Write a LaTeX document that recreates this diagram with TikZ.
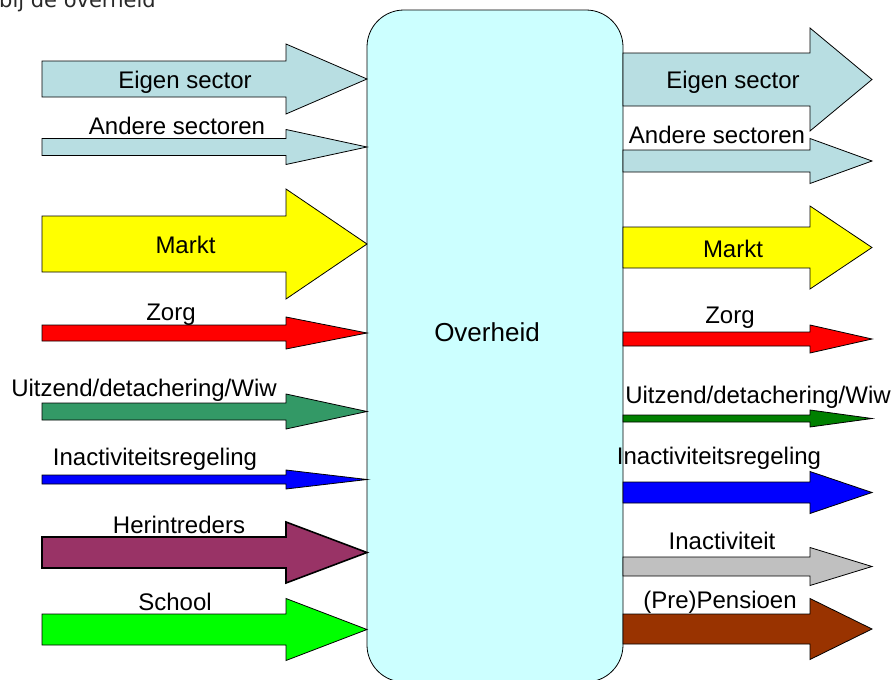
\documentclass[tikz,border=0pt]{standalone}
\usepackage{fontspec}
\setmainfont{Liberation Sans}
\newfontfamily\capfont{DejaVu Sans}
\definecolor{lblue}{RGB}{184,222,226}
\definecolor{boxcol}{RGB}{204,255,255}
\definecolor{seagr}{RGB}{51,153,102}
\definecolor{purp}{RGB}{153,51,102}
\definecolor{dgreen}{RGB}{0,128,0}
\definecolor{lgray}{RGB}{192,192,192}
\definecolor{brown}{RGB}{153,51,0}
\definecolor{captxt}{RGB}{40,40,40}
\definecolor{yel}{RGB}{255,255,0}
% #1 style, #2 x start, #3 x head base, #4 x tip, #5 y mid, #6 shaft half, #7 head half
\newcommand{\flowarrow}[7]{%
  \draw[arrowshape,#1] ({#2},{#5-#6}) -- ({#3},{#5-#6}) -- ({#3},{#5-#7}) -- ({#4},{#5})
    -- ({#3},{#5+#7}) -- ({#3},{#5+#6}) -- ({#2},{#5+#6}) -- cycle;}
\begin{document}
\begin{tikzpicture}[x=1pt,y=-1pt,
  arrowshape/.style={draw=black,line width=0.8pt,line join=miter},
  lbl/.style={anchor=base,inner sep=0pt,font=\fontsize{24}{28}\selectfont},
  mainbox/.style={draw=black,line width=0.8pt,fill=boxcol,rounded corners=37pt}]
\useasboundingbox (0,0) rectangle (895,680);
\clip (0,0) rectangle (895,680);
\node[anchor=base west,inner sep=0pt,text=captxt,font=\capfont\fontsize{21}{25}\selectfont] (cap) at (-1,7.5) {bij de overheid};
% central box
\draw[mainbox] (367,10) rectangle (623,682);
% left arrows
\flowarrow{fill=lblue}{42}{286}{367}{79}{18}{35}
\flowarrow{fill=lblue}{42}{286}{367}{147}{8.5}{17.5}
\flowarrow{fill=yel}{42}{286}{367}{244}{28}{55}
\flowarrow{fill=red}{42}{286}{367}{333}{8}{16}
\flowarrow{fill=seagr}{42}{286}{367}{411.5}{8.5}{17.5}
\flowarrow{fill=blue}{42}{286}{367}{479.5}{4.5}{9.5}
\flowarrow{fill=purp,line width=1.6pt}{42}{286}{367}{552.5}{15.5}{30.5}
\flowarrow{fill=green}{42}{286}{367}{629.5}{15.5}{31}
% right arrows
\flowarrow{fill=lblue}{623}{810}{872}{79.5}{26.5}{51.5}
\flowarrow{fill=lblue}{623}{810}{872}{161}{11}{22.5}
\flowarrow{fill=yel}{623}{810}{872}{247.5}{20.5}{41.5}
\flowarrow{fill=red}{623}{810}{872}{339}{7}{14}
\flowarrow{fill=dgreen}{623}{810}{872}{418.5}{3.5}{8.5}
\flowarrow{fill=blue}{623}{810}{872}{492.5}{10.5}{21}
\flowarrow{fill=lgray}{623}{810}{872}{566.5}{9.5}{19}
\flowarrow{fill=brown}{623}{810}{872}{629}{15}{30.5}
% labels left
\node[lbl] (l1) at (185,88) {Eigen sector};
\node[lbl] (l2) at (177,134) {Andere sectoren};
\node[lbl] (l3) at (185.5,253) {Markt};
\node[lbl] (l4) at (171,320) {Zorg};
\node[lbl] (l5) at (144,396) {Uitzend/detachering/Wiw};
\node[lbl] (l6) at (155,465) {Inactiviteitsregeling};
\node[lbl] (l7) at (179,533) {Herintreders};
\node[lbl] (l8) at (175,610) {School};
% labels right
\node[lbl] (r1) at (733,88) {Eigen sector};
\node[lbl] (r2) at (717,143) {Andere sectoren};
\node[lbl] (r3) at (733,257) {Markt};
\node[lbl] (r4) at (730,323) {Zorg};
\node[lbl] (r5) at (758,403) {Uitzend/detachering/Wiw};
\node[lbl] (r6) at (719,464) {Inactiviteitsregeling};
\node[lbl] (r7) at (722,549) {Inactiviteit};
\node[lbl] (r8) at (720,608) {(Pre)Pensioen};
\node[lbl,font=\fontsize{26}{30}\selectfont] (ov) at (487,341) {Overheid};
\end{tikzpicture}
\end{document}
